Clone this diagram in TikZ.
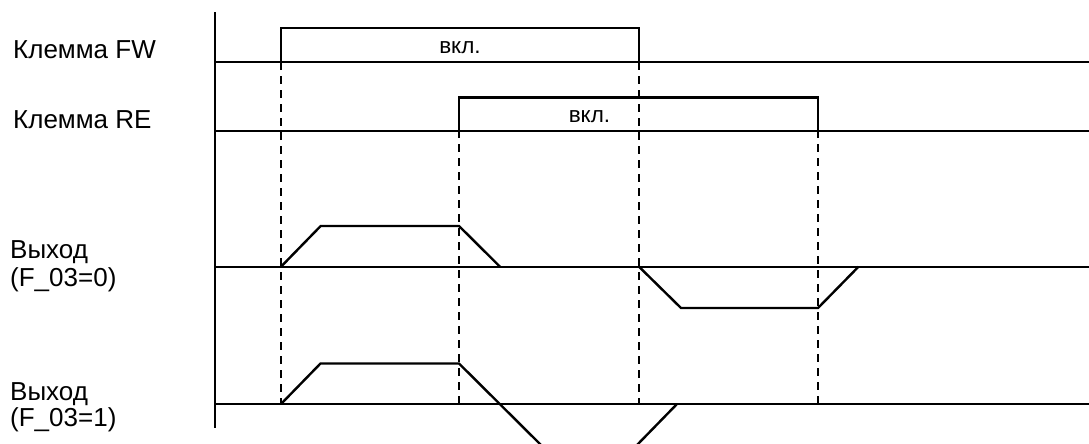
\documentclass[tikz,border=0pt]{standalone}
\usepackage{fontspec}
\setmainfont{Liberation Sans}
\begin{document}
\begin{tikzpicture}[x=1pt,y=-1pt,
  baseline/.style={line width=1.6pt},
  axisline/.style={line width=1.8pt},
  wave/.style={line width=2.4pt, line join=miter},
  guide/.style={line width=1.7pt, dash pattern=on 8pt off 6pt},
  guidebold/.style={line width=2.1pt, dash pattern=on 8pt off 6pt},
  lbl/.style={anchor=base west, inner sep=0pt, font=\fontsize{26}{30}\selectfont},
  onlbl/.style={anchor=base, inner sep=0pt, font=\fontsize{22.5}{26}\selectfont}]
\useasboundingbox (0,0) rectangle (1089,444);

% time points
\coordinate (fwR) at (281,62);
\coordinate (fwF) at (639,62);
\coordinate (reR) at (459,130);
\coordinate (reF) at (818,130);
\coordinate (b1) at (281,404);
\coordinate (b2) at (459,404);
\coordinate (b3) at (639,404);
\coordinate (b4) at (818,404);

% labels
\node[lbl] (lfw) at (13,58.3) {Клемма FW};
\node[lbl] (lre) at (13,128) {Клемма RE};
\node[lbl] (lo0a) at (10,258.3) {Выход};
\node[lbl] (lo0b) at (10,286.7) {(F\_03=0)};
\node[lbl] (lo1a) at (10,400) {Выход};
\node[lbl] (lo1b) at (10,426.7) {(F\_03=1)};

% axis
\draw[axisline] (215,12.5) -- (215,428);

% baselines
\draw[baseline] (215,62) -- (1089,62);
\draw[baseline] (215,130.7) -- (1089,130.7);
\draw[baseline] (215,266.7) -- (1089,266.7);
\draw[baseline] (215,404) -- (1089,404);

% pulses
\draw[wave] (fwR) -- (281,28) -- (639,28) -- (fwF);
\draw[wave] (reR) -- (459,97.3) -- (818,97.3) -- (reF);
\node[onlbl] (on1) at (460,53) {вкл.};
\node[onlbl] (on2) at (589.5,122) {вкл.};

% guides
\draw[guidebold] (fwR) -- (b1);
\draw[guide] (reR) -- (b2);
\draw[guide] (fwF) -- (b3);
\draw[guide] (reF) -- (b4);

% output F_03=0
\draw[wave] (281,266.7) -- (320.7,226) -- (459,226) -- (500,266.7);
\draw[wave] (639,266.7) -- (681,308) -- (818,308) -- (858.5,266.7);

% output F_03=1
\draw[wave] (281,404) -- (320.5,363.5) -- (459,363.5) -- (541,445);
\draw[wave] (637,445) -- (677,404);
\end{tikzpicture}
\end{document}
